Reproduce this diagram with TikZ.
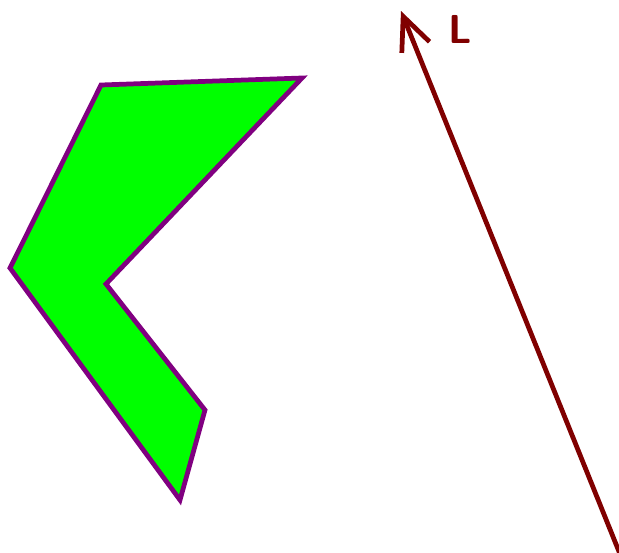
\documentclass[tikz,border=0pt]{standalone}
\usepackage{tikz}
\usetikzlibrary{arrows.meta}
\definecolor{shapegreen}{RGB}{0,255,0}
\definecolor{edgepurple}{RGB}{128,0,128}
\definecolor{lightred}{RGB}{128,0,0}
\begin{document}
\begin{tikzpicture}[>={Straight Barb[length=19pt,width=17pt,line width=2.7pt]},x=0.02cm,y=-0.02cm]
  % Frame of the picture
  \useasboundingbox (0,0) rectangle (619,552);
  % Bent polygon
  \filldraw[fill=shapegreen,draw=edgepurple,line width=2.7pt,line join=miter]
    (101,85)--(302,78)--(106,284)--(205,410)--(180,500)--(10,268)--cycle;
  % Light direction
  \coordinate (lstart) at (622,559);
  \coordinate (ltip) at (401,11);
  \draw[->,lightred,line width=2.7pt] (lstart)--(ltip);
  \node[lightred,font=\fontsize{23}{23}\sffamily\bfseries] (llabel) at (460,29) {L};
\end{tikzpicture}
\end{document}
